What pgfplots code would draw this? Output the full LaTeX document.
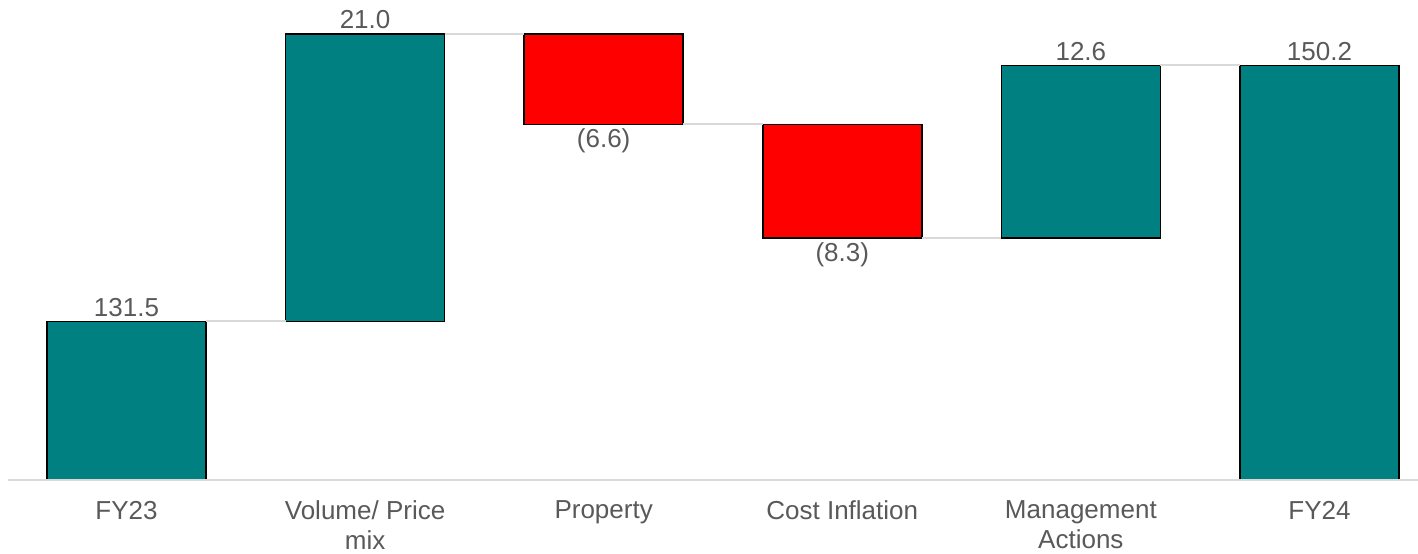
\documentclass[border=0pt]{standalone}
\usepackage{pgfplots}
\pgfplotsset{compat=1.18}
\usepackage{fontspec}
\setmainfont{Liberation Sans}
\definecolor{barteal}{HTML}{008080}
\definecolor{barred}{HTML}{FF0000}
\definecolor{txtgray}{HTML}{595959}
\definecolor{linegray}{HTML}{D9D9D9}
\pgfplotsset{
  common/.style={
    scale only axis, width=709bp, height=223bp,
    at={(0bp,37bp)}, anchor=south west,
    xmin=-0.530, xmax=5.413, ymin=119.9, ymax=152.5,
  }
}
\begin{document}
\begin{tikzpicture}
\path[use as bounding box] (0bp,0bp) rectangle (709bp,277bp);
\begin{axis}[common,
  ybar stacked, bar width=79.5bp,
  axis line style={draw=none},
  ytick=\empty,
  xtick={0,1,2,3,4,5},
  xticklabels={FY23, Volume/ Price\\mix, Property, Cost Inflation, Management\\Actions, FY24},
  xtick style={draw=none},
  xticklabel style={align=center, inner sep=0pt, yshift=-10.3bp, text=txtgray,
    font=\fontsize{13bp}{15bp}\selectfont},
]
% invisible base
\addplot[draw=none, fill=none] coordinates {(0,0) (1,131.5) (2,145.9) (3,137.6) (4,137.6) (5,0)};
% increases / totals
\addplot[fill=barteal, draw=black, line width=0.75bp] coordinates {(0,131.5) (1,21.0) (2,0) (3,0) (4,12.6) (5,150.2)};
% decreases
\addplot[fill=barred, draw=black, line width=0.75bp] coordinates {(0,0) (1,0) (2,6.6) (3,8.3) (4,0) (5,0)};
\end{axis}
\begin{axis}[common, hide axis, clip=false]
% baseline
\addplot[linegray, line width=1bp, forget plot] coordinates {(-0.497,119.9) (5.413,119.9)};
% connector lines
\addplot[linegray, line width=1bp, forget plot] coordinates {(0.333,131.5) (0.667,131.5)};
\addplot[linegray, line width=1bp, forget plot] coordinates {(1.333,152.5) (1.667,152.5)};
\addplot[linegray, line width=1bp, forget plot] coordinates {(2.333,145.9) (2.667,145.9)};
\addplot[linegray, line width=1bp, forget plot] coordinates {(3.333,137.6) (3.667,137.6)};
\addplot[linegray, line width=1bp, forget plot] coordinates {(4.333,150.2) (4.667,150.2)};
% labels above
\addplot[only marks, mark=*, mark size=0pt, mark options={draw=none, fill=none},
  point meta=explicit symbolic, nodes near coords,
  every node near coord/.append style={anchor=south, inner sep=2.2bp, text=txtgray,
    font=\fontsize{13bp}{15bp}\selectfont}]
  coordinates {(0,131.5) [131.5] (1,152.5) [21.0] (4,150.2) [12.6] (5,150.2) [150.2]};
% labels below
\addplot[only marks, mark=*, mark size=0pt, mark options={draw=none, fill=none},
  point meta=explicit symbolic, nodes near coords,
  every node near coord/.append style={anchor=north, inner sep=2bp, text=txtgray,
    font=\fontsize{13bp}{15bp}\selectfont}]
  coordinates {(2,145.9) [(6.6)] (3,137.6) [(8.3)]};
\end{axis}
\end{tikzpicture}
\end{document}
